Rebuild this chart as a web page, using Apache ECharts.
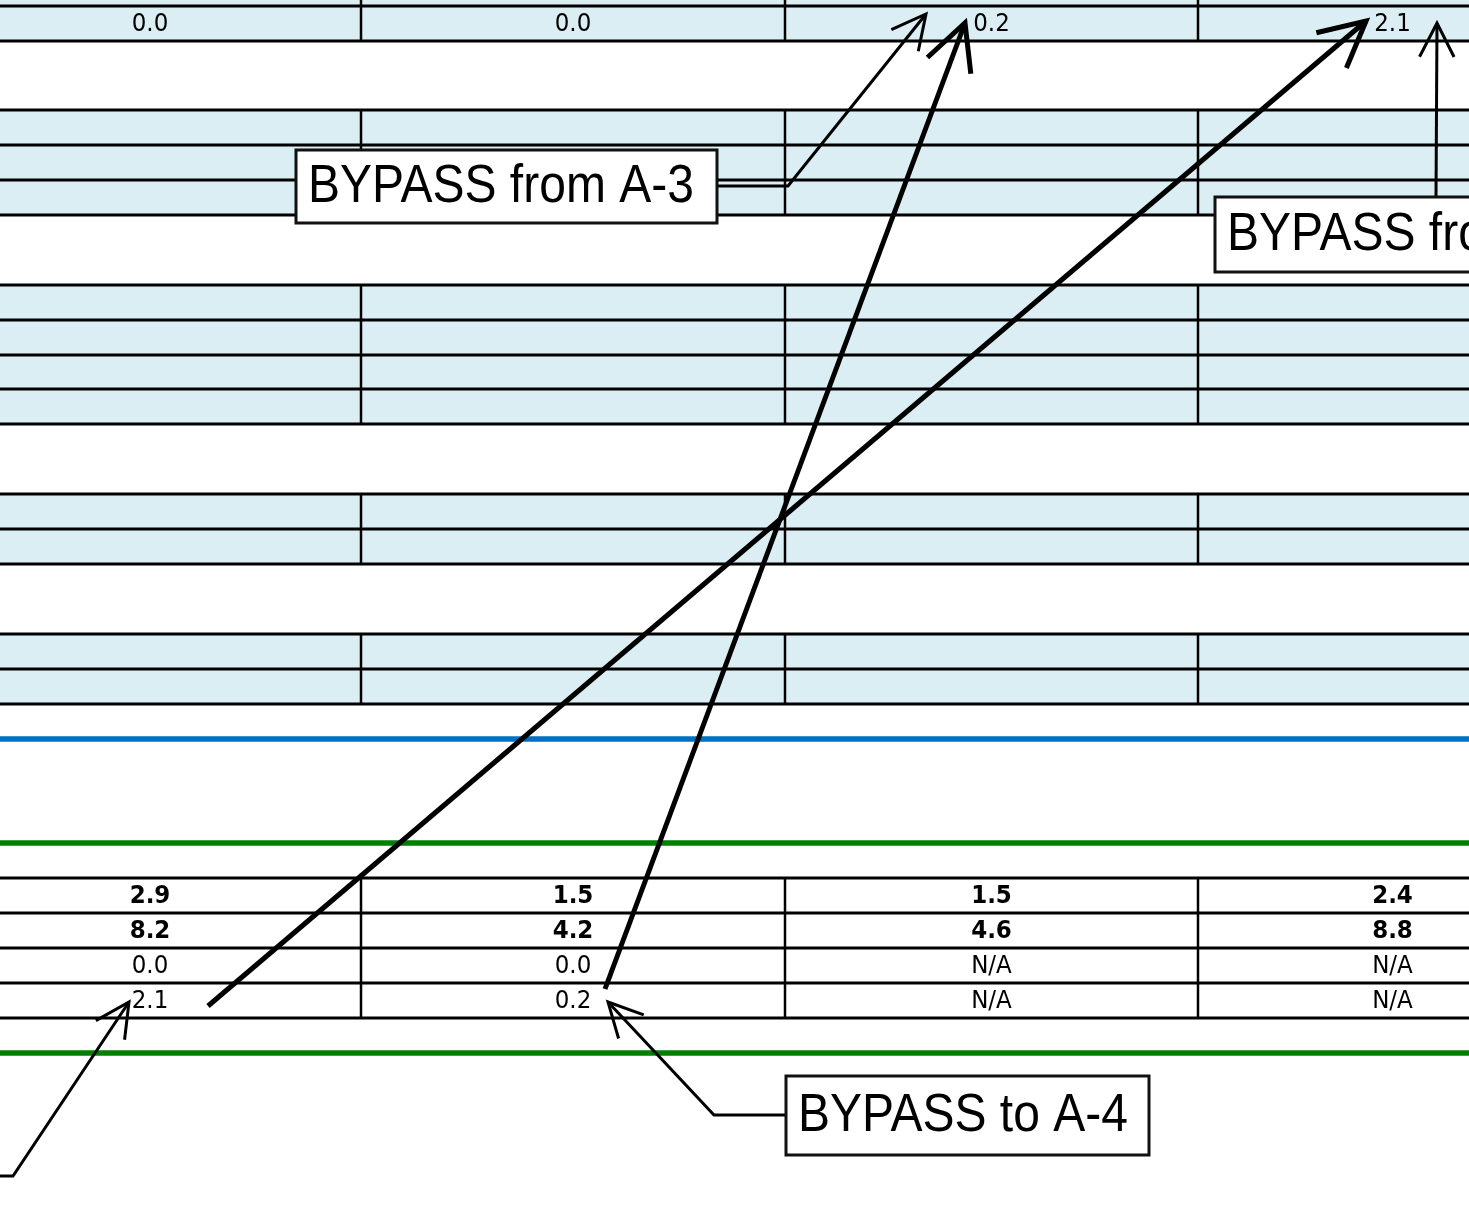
<!DOCTYPE html>
<html>
<head>
<meta charset="utf-8">
<script src="https://cdn.jsdelivr.net/npm/echarts@6/dist/echarts.min.js"></script>
<style>
html,body{margin:0;padding:0;background:#fff;}
#chart{width:1469px;height:1205px;}
</style>
</head>
<body>
<div id="chart"></div>
<script>
// ---- DATA (cell values) ----
const topRow      = ['0.0', '0.0', '0.2', '2.1'];
const summaryRow1 = ['2.9', '1.5', '1.5', '2.4'];
const summaryRow2 = ['8.2', '4.2', '4.6', '8.8'];
const bypassFrom  = ['0.0', '0.0', 'N/A', 'N/A'];
const bypassTo    = ['2.1', '0.2', 'N/A', 'N/A'];
const calloutLabels = ['BYPASS from A-3', 'BYPASS from', 'BYPASS to A-4'];

// ---- LAYOUT (page geometry, in page pixel units on hidden value axes) ----
const W = 1469, H = 1205;
const colEdges = [-61, 361, 785, 1198, 1587];
const shadedBlocks = [
  [-30, 6, 41],
  [110, 145, 180, 215],
  [285, 320, 355, 389, 424],
  [494, 529, 564],
  [634, 669, 704]
];
const summaryBlock = [878, 913, 948, 983, 1018];
const blueRuleY = 739;
const greenRulesY = [843, 1053];
const calloutBoxes = [
  [296, 150, 717, 223],
  [1215, 197, 1520, 272],
  [786, 1076, 1149, 1155]
];
const arrows = [
  {pts: [[717, 186], [788, 186], [926, 14]], w: 3, head: 38},
  {pts: [[605, 989], [965, 23]], w: 5, head: 51},
  {pts: [[208, 1006], [1366, 21]], w: 5, head: 51},
  {pts: [[1436, 197], [1437, 23]], w: 3, head: 38},
  {pts: [[786, 1115], [714, 1115], [608, 1002]], w: 3, head: 38},
  {pts: [[0, 1176], [13, 1176], [129, 1002]], w: 3, head: 38}
];

const FILL = '#DAEEF3';
const CELL_FONT = 'DejaVu Sans';
const BOX_FONT = 'Liberation Sans';

function renderAll(params, api) {
  const P = (x, y) => api.coord([x, y]);
  const children = [];

  const hline = (y, w, color) => {
    const a = P(-10, y), b = P(W + 10, y);
    children.push({type: 'line', shape: {x1: a[0], y1: a[1], x2: b[0], y2: b[1]},
      style: {stroke: color, lineWidth: w}});
  };
  const vline = (x, y1, y2) => {
    const a = P(x, y1), b = P(x, y2);
    children.push({type: 'line', shape: {x1: a[0], y1: a[1], x2: b[0], y2: b[1]},
      style: {stroke: '#000', lineWidth: 2.5}});
  };
  const cellText = (txt, col, yTop, yBot, bold) => {
    const cx = (colEdges[col] + colEdges[col + 1]) / 2;
    const p = P(cx, (yTop + yBot) / 2 + 1);
    children.push({type: 'text', x: p[0], y: p[1], scaleY: 1.05, style: {
      text: txt, x: 0, y: 0, fill: '#000',
      font: (bold ? 'bold ' : '') + '23px "' + CELL_FONT + '"',
      align: 'center', verticalAlign: 'middle',
      textAlign: 'center', textVerticalAlign: 'middle'}});
  };

  // shaded blocks
  shadedBlocks.forEach(rows => {
    const a = P(-10, rows[0]), b = P(W + 10, rows[rows.length - 1]);
    children.push({type: 'rect', shape: {x: a[0], y: a[1], width: b[0] - a[0], height: b[1] - a[1]},
      style: {fill: FILL}});
  });
  // grid lines of shaded blocks and summary block
  shadedBlocks.concat([summaryBlock]).forEach(rows => {
    rows.forEach(y => hline(y, 3, '#000'));
    colEdges.forEach(x => vline(x, rows[0], rows[rows.length - 1]));
  });
  // coloured rules
  hline(blueRuleY, 5.5, '#0070C0');
  greenRulesY.forEach(y => hline(y, 5.5, '#008000'));

  // cell values
  topRow.forEach((v, i) => cellText(v, i, shadedBlocks[0][1], shadedBlocks[0][2], false));
  const sb = summaryBlock;
  summaryRow1.forEach((v, i) => cellText(v, i, sb[0], sb[1], true));
  summaryRow2.forEach((v, i) => cellText(v, i, sb[1], sb[2], true));
  bypassFrom.forEach((v, i) => cellText(v, i, sb[2], sb[3], false));
  bypassTo.forEach((v, i) => cellText(v, i, sb[3], sb[4], false));

  // arrows
  const ang = 27 * Math.PI / 180;
  arrows.forEach(ar => {
    const pts = ar.pts.map(p => P(p[0], p[1]));
    children.push({type: 'polyline', shape: {points: pts},
      style: {stroke: '#000', fill: null, lineWidth: ar.w, lineJoin: 'miter', lineCap: 'butt'}});
    const tip = pts[pts.length - 1], prev = pts[pts.length - 2];
    const dx = prev[0] - tip[0], dy = prev[1] - tip[1];
    const len = Math.hypot(dx, dy);
    const ux = dx / len, uy = dy / len;
    const rot = (a) => [tip[0] + ar.head * (ux * Math.cos(a) - uy * Math.sin(a)),
                        tip[1] + ar.head * (ux * Math.sin(a) + uy * Math.cos(a))];
    children.push({type: 'polyline', shape: {points: [rot(ang), tip, rot(-ang)]},
      style: {stroke: '#000', fill: null, lineWidth: ar.w, lineJoin: 'miter', miterLimit: 10, lineCap: 'butt'}});
  });

  // callout boxes
  calloutBoxes.forEach((bx, i) => {
    const a = P(bx[0], bx[1]), b = P(bx[2], bx[3]);
    children.push({type: 'rect', shape: {x: a[0], y: a[1], width: b[0] - a[0], height: b[1] - a[1]},
      style: {fill: '#fff', stroke: '#111', lineWidth: 3}});
    children.push({type: 'text', x: a[0] + 12, y: (a[1] + b[1]) / 2 + 1, scaleY: 1.1, style: {
      text: calloutLabels[i], x: 0, y: 0, fill: '#000',
      font: '48px "' + BOX_FONT + '"',
      align: 'left', verticalAlign: 'middle', textAlign: 'left', textVerticalAlign: 'middle'}});
  });

  return {type: 'group', children: children};
}

const chart = echarts.init(document.getElementById('chart'), null, {renderer: 'canvas'});
chart.setOption({
  animation: false,
  backgroundColor: '#fff',
  grid: {left: 0, right: 0, top: 0, bottom: 0},
  xAxis: {type: 'value', min: 0, max: W, show: false},
  yAxis: {type: 'value', min: 0, max: H, inverse: true, show: false},
  series: [{
    type: 'custom',
    coordinateSystem: 'cartesian2d',
    silent: true,
    clip: false,
    data: [[0, 0]],
    renderItem: renderAll
  }]
});
</script>
</body>
</html>
